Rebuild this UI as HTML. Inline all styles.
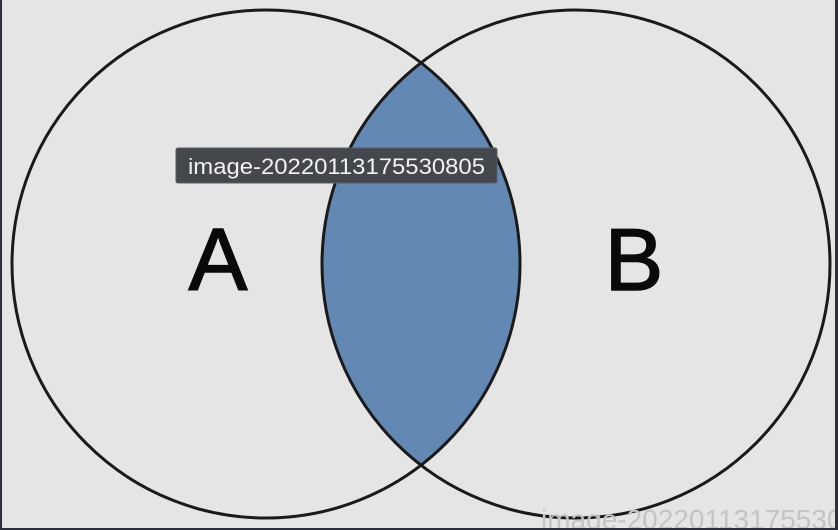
<!DOCTYPE html>
<html><head><meta charset="utf-8"><style>
html,body{margin:0;padding:0;}
body{width:838px;height:530px;overflow:hidden;background:#2b303a;position:relative;font-family:"Liberation Sans",sans-serif;}
#frame{position:absolute;left:2px;top:0;width:833px;height:528px;background:#e5e5e5;overflow:hidden;}
</style></head><body>
<div id="frame">
<svg width="833" height="528" viewBox="2 0 833 528">
<defs><clipPath id="clipA"><circle cx="266" cy="264" r="254"/></clipPath></defs>
<circle cx="576" cy="264" r="254" fill="#6488b4" clip-path="url(#clipA)"/>
<circle cx="266" cy="264" r="254" fill="none" stroke="#1a1a1a" stroke-width="3"/>
<circle cx="576" cy="264" r="254" fill="none" stroke="#1a1a1a" stroke-width="3"/>
<text x="218" y="290" font-size="88" text-anchor="middle" fill="#0a0a0a" stroke="#0a0a0a" stroke-width="1.5" font-family="Liberation Sans, sans-serif">A</text>
<text x="634" y="290" font-size="88" text-anchor="middle" fill="#0a0a0a" stroke="#0a0a0a" stroke-width="1.5" font-family="Liberation Sans, sans-serif">B</text>
<text x="541" y="529" font-size="28" fill="#c4c4c4" font-family="Liberation Sans, sans-serif">image-20220113175530805</text>
<g>
<rect x="176" y="148" width="321" height="35" rx="2" fill="#44474b" stroke="#5a5d62" stroke-width="1"/>
<text x="188" y="174" font-size="22" textLength="297" lengthAdjust="spacingAndGlyphs" fill="#f2f2f2" font-family="Liberation Sans, sans-serif">image-20220113175530805</text>
</g>
</svg>
</div>
</body></html>
